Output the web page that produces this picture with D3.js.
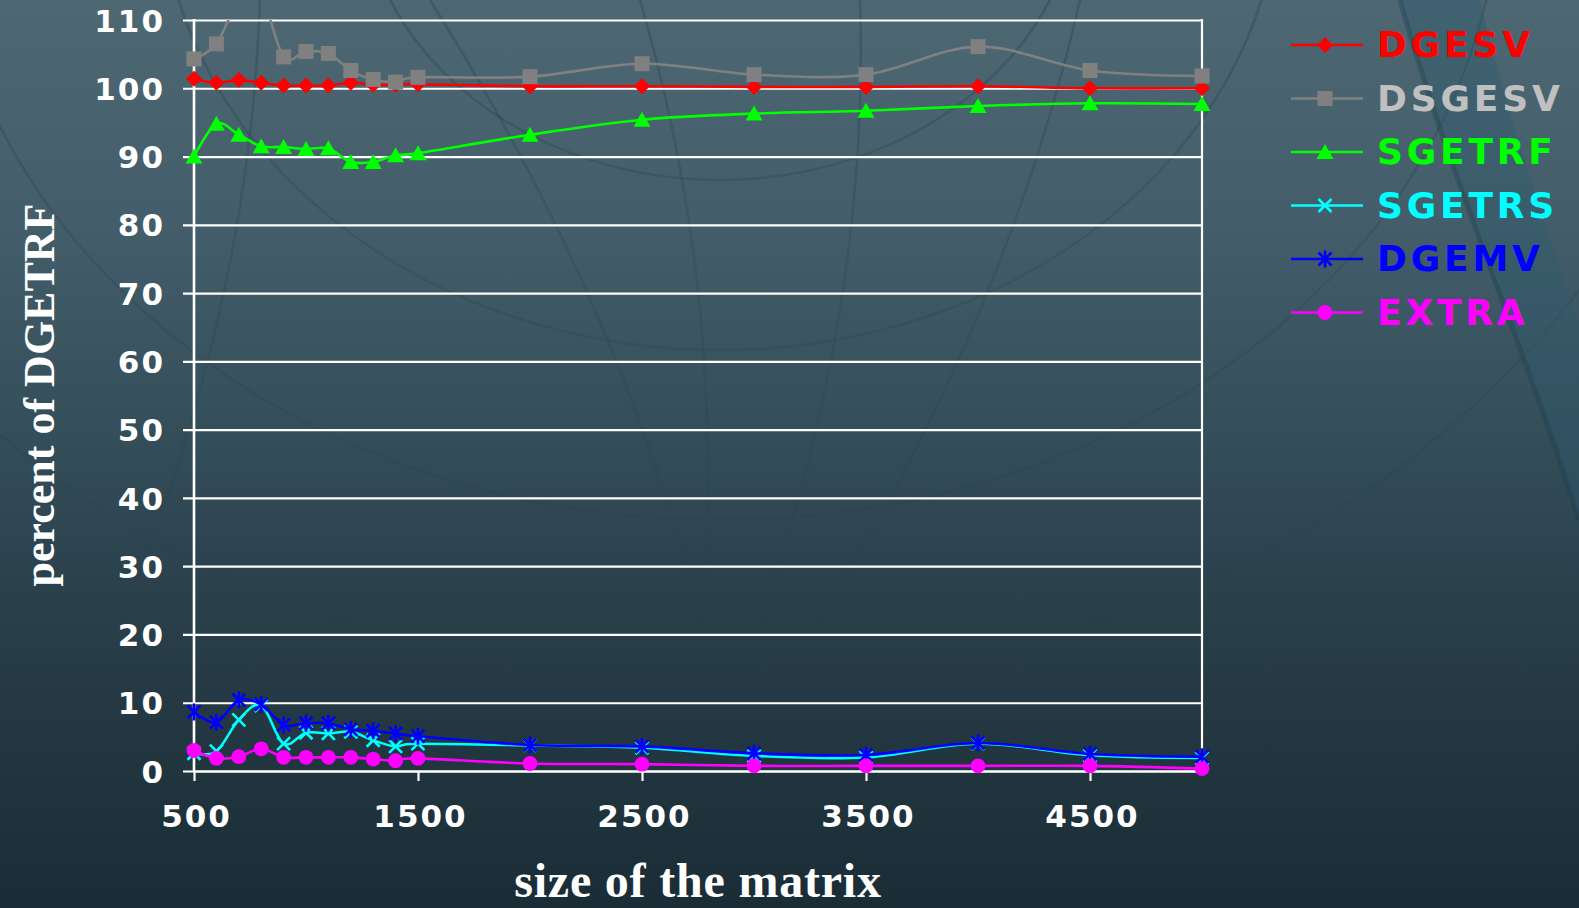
<!DOCTYPE html>
<html>
<head>
<meta charset="utf-8">
<script src="https://cdn.jsdelivr.net/npm/d3@7/dist/d3.min.js"></script>
<style>
  html, body { margin: 0; padding: 0; background: #1b2e38; }
  svg { display: block; }
</style>
</head>
<body>
<svg id="chart" width="1579" height="908"></svg>
<script>
// Matrix sizes (x values)
const sizes = [500, 600, 700, 800, 900, 1000, 1100, 1200, 1300, 1400, 1500, 2000, 2500, 3000, 3500, 4000, 4500, 5000];

// Run time of each routine as a percent of DGETRF
const dgesv  = [101.4, 100.8, 101.2, 100.8, 100.4, 100.4, 100.4, 100.8, 100.5, 100.5, 100.6, 100.3, 100.3, 100.2, 100.2, 100.3, 100.0, 100.0];
const dsgesv = [104.3, 106.5, 112.8, 113.5, 104.6, 105.4, 105.1, 102.6, 101.3, 100.9, 101.6, 101.7, 103.6, 102.0, 102.0, 106.1, 102.6, 101.8];
const sgetrf = [90.0, 94.8, 93.2, 91.5, 91.4, 91.1, 91.2, 89.2, 89.2, 90.2, 90.5, 93.2, 95.4, 96.3, 96.7, 97.4, 97.8, 97.7];
const sgetrs = [2.6, 2.9, 7.5, 9.6, 4.0, 5.6, 5.5, 5.75, 4.5, 3.6, 4.0, 3.75, 3.4, 2.2, 2.0, 4.0, 2.3, 1.9];
const dgemv  = [8.65, 7.15, 10.4, 9.75, 6.75, 7.0, 7.0, 6.1, 5.9, 5.5, 5.1, 3.8, 3.6, 2.6, 2.35, 4.1, 2.5, 2.1];
const extra  = [3.0, 1.85, 2.1, 3.25, 2.0, 2.0, 2.0, 2.0, 1.75, 1.5, 1.85, 1.1, 1.0, 0.75, 0.75, 0.75, 0.75, 0.35];

// Axis ticks
const xTicks = [500, 1500, 2500, 3500, 4500];
const yTicks = [0, 10, 20, 30, 40, 50, 60, 70, 80, 90, 100, 110];

// Series names
const seriesNames = ["DGESV", "DSGESV", "SGETRF", "SGETRS", "DGEMV", "EXTRA"];

const series = [
  { name: seriesNames[0], values: dgesv,  line: "#ff0000", text: "#ff0000", marker: "diamond" },
  { name: seriesNames[1], values: dsgesv, line: "#808080", text: "#c0c0c0", marker: "square" },
  { name: seriesNames[2], values: sgetrf, line: "#00ff00", text: "#00ff00", marker: "triangle" },
  { name: seriesNames[3], values: sgetrs, line: "#00ffff", text: "#00ffff", marker: "x" },
  { name: seriesNames[4], values: dgemv,  line: "#0000ff", text: "#0000ff", marker: "star" },
  { name: seriesNames[5], values: extra,  line: "#ff00ff", text: "#ff00ff", marker: "circle" }
];

const W = 1579, H = 908;
const plot = { left: 194, right: 1202, top: 20, bottom: 771 };

const svg = d3.select("#chart");
const defs = svg.append("defs");

// ---- background ----
const bg = defs.append("linearGradient").attr("id", "bg").attr("x1", 0).attr("y1", 0).attr("x2", 0).attr("y2", 1);
[[0, "#4d6773"], [0.25, "#435e6a"], [0.5, "#324c58"], [0.75, "#253a44"], [1, "#1a2d37"]]
  .forEach(([o, c]) => bg.append("stop").attr("offset", o).attr("stop-color", c));

const fade = defs.append("linearGradient").attr("id", "fade").attr("x1", 0).attr("y1", 0).attr("x2", 0).attr("y2", 1);
fade.append("stop").attr("offset", 0).attr("stop-color", "#fff");
fade.append("stop").attr("offset", 0.4).attr("stop-color", "#fff").attr("stop-opacity", 0.5);
fade.append("stop").attr("offset", 0.7).attr("stop-color", "#fff").attr("stop-opacity", 0);
defs.append("mask").attr("id", "fadeMask")
  .append("rect").attr("width", W).attr("height", H).attr("fill", "url(#fade)");

svg.append("rect").attr("width", W).attr("height", H).attr("fill", "url(#bg)");

// faint wireframe arcs behind the chart
const deco = svg.append("g").attr("mask", "url(#fadeMask)")
  .attr("fill", "none").attr("stroke", "#1d3642").attr("stroke-opacity", 0.28).attr("stroke-width", 2.5);
[[720, -120, 360, 300], [720, -120, 560, 470], [720, -120, 780, 640], [720, -120, 1000, 800]]
  .forEach(([cx, cy, rx, ry]) => deco.append("ellipse").attr("cx", cx).attr("cy", cy).attr("rx", rx).attr("ry", ry));
[[430, 0, 700, 620], [640, 0, 700, 620], [860, 0, 760, 620], [1080, 0, 820, 620], [260, 0, 120, 620]]
  .forEach(([x1, y1, x2, y2]) => deco.append("path").attr("d", `M${x1},${y1} Q${(x1 + x2) / 2 + 60},${(y1 + y2) / 2} ${x2},${y2}`));

// swoosh in the upper right corner
svg.append("path")
  .attr("d", "M1400,0 C1450,180 1530,360 1579,520 L1579,330 C1545,220 1505,110 1480,0 Z")
  .attr("fill", "#2c5a6e").attr("fill-opacity", 0.4);
svg.append("path")
  .attr("d", "M1400,0 C1450,180 1530,360 1579,520")
  .attr("fill", "none").attr("stroke", "#1d3b4a").attr("stroke-width", 5).attr("stroke-opacity", 0.35);

// ---- scales ----
const x = d3.scaleLinear().domain([500, 5000]).range([plot.left, plot.right]);
const y = d3.scaleLinear().domain([0, 110]).range([plot.bottom, plot.top]);

const tickFont = "'DejaVu Sans', Verdana, sans-serif";

// y axis with gridlines running across the plot
const yAxis = svg.append("g")
  .attr("transform", `translate(${plot.left - 11},0)`)
  .call(d3.axisLeft(y).tickValues(yTicks).tickFormat(d3.format("d"))
    .tickSize(-(plot.right - plot.left + 11)).tickPadding(18));
yAxis.select(".domain").remove();
yAxis.selectAll(".tick line").attr("stroke", "#ffffff").attr("stroke-width", 2.2);
yAxis.selectAll(".tick text")
  .attr("fill", "#ffffff").attr("dy", "0.36em")
  .style("font-family", tickFont).style("font-weight", "bold").style("font-size", "31px")
  .style("letter-spacing", "2px");

// x axis
const xAxis = svg.append("g")
  .attr("transform", `translate(0,${plot.bottom})`)
  .call(d3.axisBottom(x).tickValues(xTicks).tickFormat(d3.format("d")).tickSize(10).tickSizeOuter(0));
xAxis.select(".domain").attr("stroke", "#ffffff").attr("stroke-width", 2.2);
xAxis.selectAll(".tick line").attr("stroke", "#ffffff").attr("stroke-width", 2.2);
xAxis.selectAll(".tick text")
  .attr("fill", "#ffffff").attr("x", 2).attr("y", 56).attr("dy", 0)
  .style("font-family", tickFont).style("font-weight", "bold").style("font-size", "31px")
  .style("letter-spacing", "2px");

// plot frame: left axis line and right border
svg.append("line").attr("x1", plot.left).attr("x2", plot.left).attr("y1", plot.top - 1).attr("y2", plot.bottom + 1)
  .attr("stroke", "#ffffff").attr("stroke-width", 2.6);
svg.append("line").attr("x1", plot.right).attr("x2", plot.right).attr("y1", plot.top - 1).attr("y2", plot.bottom + 1)
  .attr("stroke", "#ffffff").attr("stroke-width", 2.2);

// axis titles
const titleFont = "'Liberation Serif', 'Times New Roman', serif";
svg.append("text")
  .attr("x", 698).attr("y", 897).attr("text-anchor", "middle")
  .attr("fill", "#ffffff")
  .style("font-family", titleFont).style("font-weight", "bold").style("font-size", "48px")
  .style("letter-spacing", "0.8px")
  .text("size of the matrix");
svg.append("text")
  .attr("transform", "translate(54,395) rotate(-90)")
  .attr("text-anchor", "middle")
  .attr("fill", "#ffffff")
  .style("font-family", titleFont).style("font-weight", "bold").style("font-size", "44px")
  .text("percent of DGETRF");

// ---- series ----
defs.append("clipPath").attr("id", "plotClip")
  .append("rect").attr("x", plot.left).attr("y", plot.top)
  .attr("width", plot.right - plot.left).attr("height", plot.bottom - plot.top);

const markerPaths = {
  diamond: "M0,-8L8,0L0,8L-8,0Z",
  square: "M-7.5,-7.5H7.5V7.5H-7.5Z",
  triangle: "M0,-8L8.5,7L-8.5,7Z",
  x: "M-6.5,-6.5L6.5,6.5M-6.5,6.5L6.5,-6.5",
  star: "M-6.5,-6.5L6.5,6.5M-6.5,6.5L6.5,-6.5M0,-8.5V8.5",
  circle: null
};

function drawMarker(g, type, color) {
  if (type === "circle") {
    g.append("circle").attr("r", 7.4).attr("fill", color);
  } else if (type === "x" || type === "star") {
    g.append("path").attr("d", markerPaths[type]).attr("fill", "none")
      .attr("stroke", color).attr("stroke-width", 2.6);
  } else {
    g.append("path").attr("d", markerPaths[type]).attr("fill", color);
  }
}

const line = d3.line()
  .x(d => x(d.size))
  .y(d => y(d.value))
  .curve(d3.curveCardinal.tension(0));

series.forEach(s => {
  const pts = sizes.map((size, i) => ({ size, value: s.values[i] }));
  const g = svg.append("g");
  g.append("path")
    .attr("clip-path", "url(#plotClip)")
    .attr("d", line(pts))
    .attr("fill", "none")
    .attr("stroke", s.line)
    .attr("stroke-width", 2.6);
  pts.filter(p => p.value <= 110).forEach(p => {
    const m = g.append("g").attr("transform", `translate(${x(p.size)},${y(p.value)})`);
    drawMarker(m, s.marker, s.line);
  });
});

// ---- legend ----
const legend = svg.append("g").attr("transform", "translate(1291,45)");
series.forEach((s, i) => {
  const row = legend.append("g").attr("transform", `translate(0,${i * 53.5})`);
  row.append("line").attr("x1", 0).attr("x2", 72).attr("y1", 0).attr("y2", 0)
    .attr("stroke", s.line).attr("stroke-width", 2.6);
  const m = row.append("g").attr("transform", "translate(34,0)");
  drawMarker(m, s.marker, s.line);
  row.append("text")
    .attr("x", 86).attr("y", 12)
    .attr("fill", s.text)
    .style("font-family", tickFont).style("font-weight", "bold").style("font-size", "36px")
    .style("letter-spacing", "3.8px")
    .text(s.name);
});
</script>
</body>
</html>
